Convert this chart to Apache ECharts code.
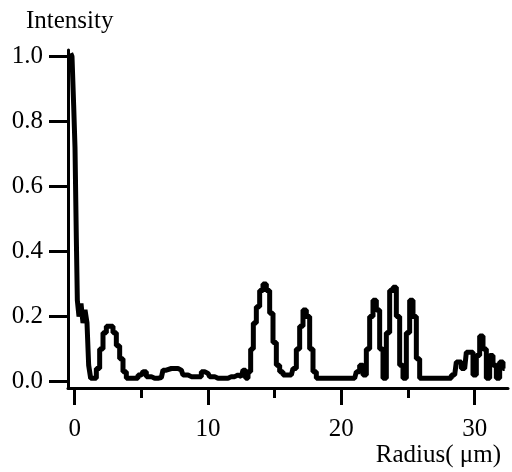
<!DOCTYPE html>
<html>
<head>
<meta charset="utf-8">
<script src="https://cdn.jsdelivr.net/npm/echarts@6/dist/echarts.min.js"></script>
<style>
html, body { margin: 0; padding: 0; background: #fff; }
#main { width: 512px; height: 472px; }
</style>
</head>
<body>
<div id="main"></div>
<script>
// radial intensity profile
var radius = [-0.3, -0.1, -0.05, 0.1, 0.15, 0.25, 0.4, 0.55, 0.7, 0.85, 1.0, 1.1, 1.3, 1.5, 1.75, 2.0, 2.25, 2.5, 2.75, 3.0,
  3.25, 3.5, 3.75, 4.0, 4.5, 5.0, 5.25, 5.5, 6.0, 6.5, 6.75, 7.0, 7.5, 8.0, 8.25, 8.75, 9.25, 9.75, 10.0, 10.25,
  10.75, 11.25, 11.75, 12.25, 12.5, 12.75, 12.9, 13.1, 13.3, 13.5, 13.75, 14.0, 14.25, 14.5, 14.75, 15.0, 15.25, 15.5, 15.75, 16.25,
  16.5, 16.75, 17.0, 17.25, 17.5, 17.75, 18.0, 18.25, 19.0, 20.0, 21.0, 21.25, 21.5, 21.75, 22.0, 22.25, 22.5, 22.75, 23.0, 23.25,
  23.5, 23.75, 24.0, 24.25, 24.5, 24.75, 25.0, 25.25, 25.5, 25.75, 26.0, 27.0, 28.0, 28.5, 28.75, 29.25, 29.5, 29.75, 30.0, 30.25,
  30.5, 30.75, 31.0, 31.25, 31.5, 31.75, 32.0, 32.25];
var intensity = [1.01, 1.0, 0.85, 0.72, 0.44, 0.25, 0.20, 0.24, 0.18, 0.22, 0.18, 0.05, 0.01, 0.01, 0.04, 0.10, 0.15, 0.17, 0.17, 0.15,
  0.11, 0.07, 0.03, 0.01, 0.01, 0.02, 0.03, 0.015, 0.01, 0.012, 0.035, 0.04, 0.04, 0.035, 0.02, 0.015, 0.015, 0.03, 0.025, 0.015,
  0.01, 0.01, 0.015, 0.02, 0.015, 0.035, 0.01, 0.03, 0.10, 0.18, 0.23, 0.28, 0.30, 0.28, 0.21, 0.12, 0.05, 0.03, 0.02, 0.02,
  0.04, 0.10, 0.17, 0.22, 0.20, 0.10, 0.03, 0.01, 0.01, 0.01, 0.01, 0.03, 0.05, 0.02, 0.10, 0.20, 0.25, 0.22, 0.10, 0.01,
  0.15, 0.28, 0.29, 0.20, 0.05, 0.01, 0.15, 0.25, 0.20, 0.07, 0.01, 0.01, 0.01, 0.02, 0.06, 0.04, 0.09, 0.09, 0.02, 0.08,
  0.14, 0.10, 0.01, 0.08, 0.05, 0.01, 0.06, 0.04];
var yTicks = [0, 0.2, 0.4, 0.6, 0.8, 1.0];
var xMajor = [0, 10, 20, 30];
var xMinor = [5, 15, 25];

var points = radius.map(function (r, i) { return [r, intensity[i]]; });
var serif = '"Liberation Serif", "DejaVu Serif", serif';

var myChart = echarts.init(document.getElementById('main'));
var option = {
  animation: false,
  title: [
    { text: 'Intensity', left: 21, top: 4, textStyle: { fontFamily: serif, fontSize: 25, fontWeight: 'normal', color: '#000' } },
    { text: 'Radius( μm)', right: 6, top: 438, textStyle: { fontFamily: serif, fontSize: 25, fontWeight: 'normal', color: '#000' } }
  ],
  grid: { left: 68, right: 4, top: 50, bottom: 84 },
  xAxis: [
    {
      type: 'value', min: -0.5, max: 32.5,
      axisLine: { onZero: false, lineStyle: { color: '#000', width: 3 } },
      axisTick: { customValues: xMajor, length: 17, lineStyle: { color: '#000', width: 3 } },
      axisLabel: { customValues: xMajor, margin: 29, fontFamily: serif, fontSize: 25, color: '#000' },
      splitLine: { show: false }
    },
    {
      type: 'value', min: -0.5, max: 32.5, position: 'bottom',
      axisLine: { show: false, onZero: false },
      axisTick: { customValues: xMinor, length: 10, lineStyle: { color: '#000', width: 3 } },
      axisLabel: { show: false },
      splitLine: { show: false }
    }
  ],
  yAxis: {
    type: 'value', min: -0.02, max: 1.02,
    axisLine: { show: true, onZero: false, lineStyle: { color: '#000', width: 3 } },
    axisTick: { show: true, customValues: yTicks, length: 19, lineStyle: { color: '#000', width: 3 } },
    axisLabel: {
      customValues: yTicks, margin: 25, fontFamily: serif, fontSize: 25, color: '#000',
      formatter: function (v) { return v.toFixed(1); }
    },
    splitLine: { show: false }
  },
  series: [{
    type: 'line',
    data: points,
    step: 'middle',
    symbol: 'none',
    lineStyle: { color: '#000', width: 5 }
  }]
};
myChart.setOption(option);
</script>
</body>
</html>
